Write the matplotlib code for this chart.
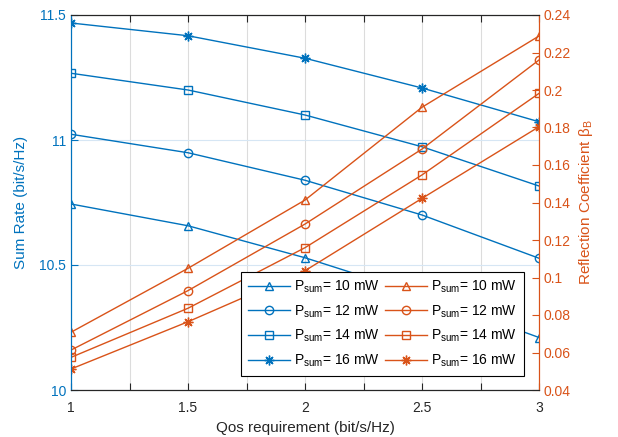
import matplotlib
matplotlib.use('Agg')
import matplotlib.pyplot as plt
from matplotlib.ticker import FixedLocator, FuncFormatter

plt.rcParams['font.family'] = ['Liberation Sans', 'DejaVu Sans']
plt.rcParams['mathtext.fontset'] = 'custom'
plt.rcParams['mathtext.rm'] = 'Liberation Sans'
plt.rcParams['mathtext.it'] = 'Liberation Sans:italic'

blue = '#0072BD'
orange = '#D95319'
dark = '#262626'

qos = [1, 1.5, 2, 2.5, 3]
powers = ['10', '12', '14', '16']
markers = ['^', 'o', 's', (8, 2, 0)]

rate_10 = [10.744, 10.657, 10.529, 10.38, 10.21]
rate_12 = [11.023, 10.949, 10.839, 10.70, 10.527]
rate_14 = [11.267, 11.200, 11.100, 10.973, 10.816]
rate_16 = [11.468, 11.417, 11.327, 11.208, 11.073]
rates = [rate_10, rate_12, rate_14, rate_16]

beta_10 = [0.0708, 0.1049, 0.1413, 0.1908, 0.2288]
beta_12 = [0.0613, 0.0930, 0.1285, 0.1685, 0.2160]
beta_14 = [0.0574, 0.0836, 0.1159, 0.1547, 0.1982]
beta_16 = [0.0512, 0.0764, 0.1036, 0.1422, 0.1804]
betas = [beta_10, beta_12, beta_14, beta_16]

fig = plt.figure(figsize=(6.18, 4.37), dpi=100)
ax = fig.add_axes([71/618, 47/437, 468/618, 375/437])
ax2 = ax.twinx()

handles_l = []
handles_r = []
for p, m, r, b in zip(powers, markers, rates, betas):
    ms = 7 if isinstance(m, tuple) else 6
    lbl = r'P$_{\mathrm{sum}}$= ' + p + ' mW'
    h1, = ax.plot(qos, r, color=blue, marker=m, ms=ms, mfc='none', mew=1.0, lw=1.0, label=lbl)
    h2, = ax2.plot(qos, b, color=orange, marker=m, ms=ms, mfc='none', mew=1.0, lw=1.0, label=lbl)
    handles_l.append(h1)
    handles_r.append(h2)

ax.set_xlim(1, 3)
ax.set_ylim(10, 11.5)
ax2.set_ylim(0.04, 0.24)

ax.xaxis.set_major_locator(FixedLocator([1, 1.25, 1.5, 1.75, 2, 2.25, 2.5, 2.75, 3]))
ax.xaxis.set_major_formatter(FuncFormatter(lambda v, pos: ('%g' % v) if abs(v * 2 - round(v * 2)) < 1e-9 else ''))
ax.set_yticks([10, 10.5, 11, 11.5])
ax.yaxis.set_major_formatter(FuncFormatter(lambda v, pos: '%g' % v))
ax2.set_yticks([0.04 + 0.02 * i for i in range(11)])
ax2.yaxis.set_major_formatter(FuncFormatter(lambda v, pos: '%g' % round(v, 2)))

ax.grid(axis='x', color='#dcdcdc', lw=0.8)
ax.grid(axis='y', color='#d6e6f4', lw=0.8)
ax.set_axisbelow(True)

ax.tick_params(axis='x', direction='in', top=True, length=5, labelsize=10, colors=dark, pad=8)
ax.tick_params(axis='y', direction='in', length=5, labelsize=10, colors=blue)
ax2.tick_params(axis='y', direction='in', length=5, labelsize=10, colors=orange)

for sp in ['top', 'bottom']:
    ax2.spines[sp].set_color(dark)
ax2.spines['left'].set_color(blue)
ax2.spines['right'].set_color(orange)
ax.spines['left'].set_color(blue)
ax.spines['right'].set_color(orange)

ax.set_xlabel('Qos requirement (bit/s/Hz)', fontsize=11, color=dark)
ax.set_ylabel('Sum Rate (bit/s/Hz)', fontsize=11, color=blue, labelpad=8)
ax2.set_ylabel(r'Reflection Coefficient β$_{\mathrm{B}}$', fontsize=11, color=orange)

leg = ax2.legend(handles=handles_l + handles_r, ncol=2, loc='lower right',
                 bbox_to_anchor=(0.968, 0.037), borderaxespad=0, fontsize=10,
                 fancybox=False, edgecolor='k', framealpha=1, handlelength=3,
                 columnspacing=0.4, handletextpad=0.3, labelspacing=0.6, borderpad=0.5)
leg.get_frame().set_linewidth(0.8)

fig.savefig('out.png', dpi=100)
